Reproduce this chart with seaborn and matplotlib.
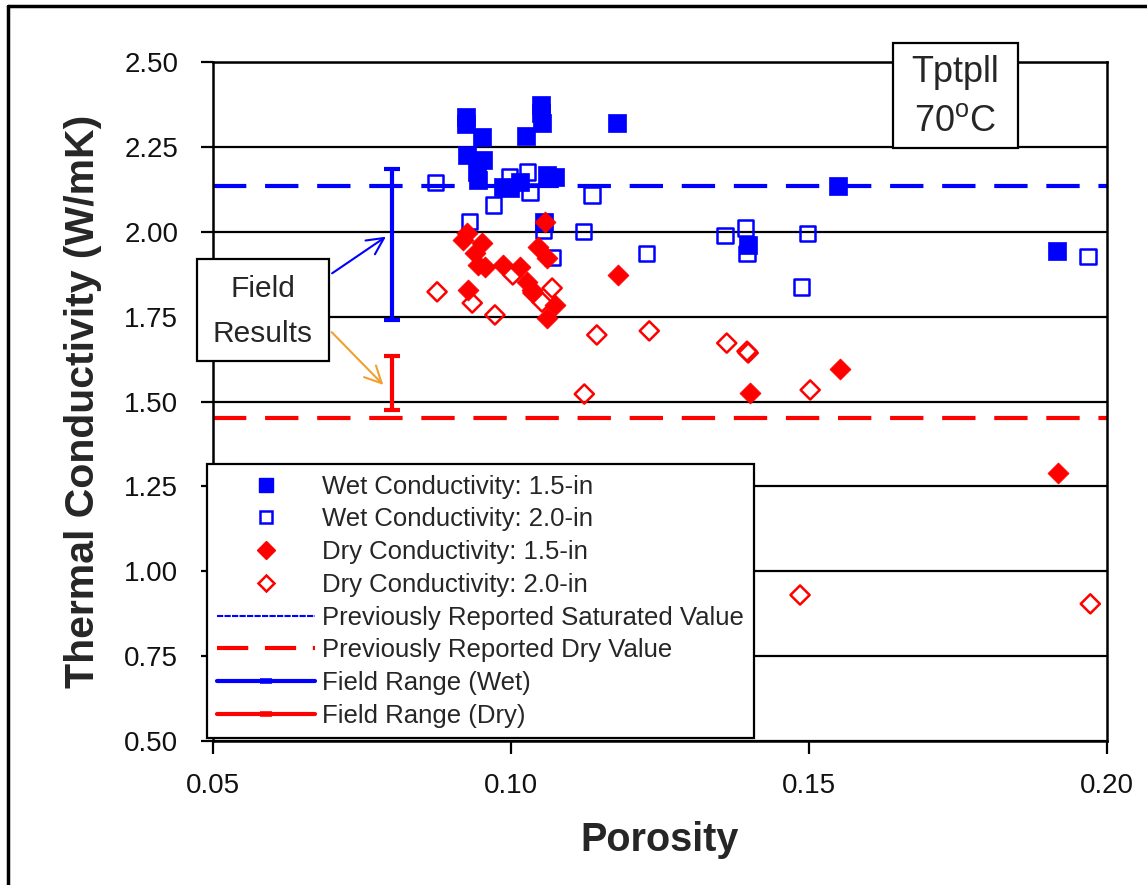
import numpy as np
import pandas as pd
import seaborn as sns
import matplotlib
matplotlib.use("Agg")
import matplotlib.pyplot as plt
from matplotlib.lines import Line2D
from matplotlib.patches import Rectangle

# ---------------- data ----------------
wet15_x = [0.0924, 0.0924, 0.0951, 0.1025, 0.1050, 0.1050, 0.1052, 0.1178,
           0.0926, 0.0953, 0.0943, 0.0945, 0.0987, 0.1015, 0.0998, 0.1060, 0.1074,
           0.1055, 0.1398, 0.1549, 0.1916]
wet15_y = [2.339, 2.317, 2.278, 2.282, 2.373, 2.350, 2.320, 2.320,
           2.226, 2.211, 2.176, 2.152, 2.132, 2.147, 2.130, 2.167, 2.161,
           2.030, 1.961, 2.135, 1.943]

wet20_x = [0.0873, 0.0970, 0.0931, 0.0998, 0.1028, 0.1032, 0.1136, 0.1055,
           0.1121, 0.1069, 0.1228, 0.1359, 0.1393, 0.1396, 0.1498, 0.1488, 0.1968]
wet20_y = [2.144, 2.079, 2.030, 2.161, 2.176, 2.117, 2.108, 2.005,
           2.000, 1.923, 1.935, 1.990, 2.011, 1.937, 1.996, 1.837, 1.926]

dry15_x = [0.0926, 0.0919, 0.0951, 0.0940, 0.0945, 0.0956, 0.0987, 0.1015,
           0.1027, 0.1035, 0.1045, 0.1060, 0.1074, 0.1060, 0.0928, 0.1057,
           0.1180, 0.1401, 0.1552, 0.1918]
dry15_y = [1.996, 1.976, 1.967, 1.937, 1.902, 1.896, 1.902, 1.896,
           1.852, 1.829, 1.955, 1.923, 1.784, 1.746, 1.829, 2.029,
           1.873, 1.525, 1.596, 1.290]

dry20_x = [0.0876, 0.0935, 0.0973, 0.1003, 0.1037, 0.1069, 0.1052, 0.1144,
           0.1123, 0.1232, 0.1362, 0.1396, 0.1398, 0.1502, 0.1485, 0.1972]
dry20_y = [1.823, 1.790, 1.755, 1.873, 1.820, 1.834, 1.793, 1.696,
           1.522, 1.708, 1.672, 1.648, 1.643, 1.534, 0.930, 0.904]

sat_value = 2.135
dry_value = 1.45
field_x = 0.08
field_wet = (1.74, 2.185)
field_dry = (1.475, 1.635)

labels = ["Wet Conductivity: 1.5-in", "Wet Conductivity: 2.0-in",
          "Dry Conductivity: 1.5-in", "Dry Conductivity: 2.0-in",
          "Previously Reported Saturated Value", "Previously Reported Dry Value",
          "Field Range (Wet)", "Field Range (Dry)"]
xticks = [0.05, 0.10, 0.15, 0.20]
yticks = [0.50, 0.75, 1.00, 1.25, 1.50, 1.75, 2.00, 2.25, 2.50]

# ---------------- style ----------------
sns.set_theme(style="white")
plt.rcParams["font.family"] = ["Liberation Sans", "DejaVu Sans"]
plt.rcParams["mathtext.fontset"] = "custom"
plt.rcParams["mathtext.rm"] = "Liberation Sans"

BLUE = "#0000ff"
RED = "#ff0000"
ORANGE = "#f0a030"

fig = plt.figure(figsize=(11.47, 8.85), dpi=100)
ax = fig.add_axes([213/1147, 1-741/885, 894/1147, 679/885])

for y in yticks:
    ax.axhline(y, color="black", lw=1.6, zorder=1)

ax.axhline(sat_value, color=BLUE, lw=3.0, dashes=(8, 4.5), zorder=2)
ax.axhline(dry_value, color=RED, lw=3.0, dashes=(8, 4.5), zorder=2)

sns.scatterplot(x=wet20_x, y=wet20_y, ax=ax, marker="s", s=120,
                facecolors="none", edgecolor=BLUE, linewidth=1.8, zorder=3)
sns.scatterplot(x=wet15_x, y=wet15_y, ax=ax, marker="s", s=175,
                color=BLUE, edgecolor=BLUE, linewidth=0.5, zorder=4)
sns.scatterplot(x=dry20_x, y=dry20_y, ax=ax, marker="D", s=95,
                facecolors="none", edgecolor=RED, linewidth=1.8, zorder=5)
sns.scatterplot(x=dry15_x, y=dry15_y, ax=ax, marker="D", s=115,
                color=RED, edgecolor=RED, linewidth=0.5, zorder=6)

mid_w = (field_wet[0] + field_wet[1]) / 2
ax.errorbar([field_x], [mid_w], yerr=[[mid_w - field_wet[0]], [field_wet[1] - mid_w]],
            fmt="none", ecolor=BLUE, elinewidth=3, capsize=6, capthick=3, zorder=7)
mid_d = (field_dry[0] + field_dry[1]) / 2
ax.errorbar([field_x], [mid_d], yerr=[[mid_d - field_dry[0]], [field_dry[1] - mid_d]],
            fmt="none", ecolor=RED, elinewidth=3, capsize=6, capthick=3, zorder=7)

ax.set_xlim(0.05, 0.20)
ax.set_ylim(0.50, 2.50)
ax.set_xticks(xticks)
ax.set_yticks(yticks)
ax.set_xticklabels([f"{v:.2f}" for v in xticks])
ax.set_yticklabels([f"{v:.2f}" for v in yticks])
ax.tick_params(axis="both", direction="out", length=9, width=1.6, color="black",
               labelsize=20, labelcolor="#111111")
ax.tick_params(axis="y", pad=16, left=True)
ax.tick_params(axis="x", pad=14, bottom=True)
for sp in ax.spines.values():
    sp.set_color("black")
    sp.set_linewidth(1.8)
    sp.set_visible(True)
ax.grid(False)

ax.set_xlabel("Porosity", fontsize=28.5, fontweight="bold", labelpad=16)
ax.set_ylabel("Thermal Conductivity (W/mK)", fontsize=29.5, fontweight="bold", labelpad=16)

# Field Results annotation box
ax.add_patch(Rectangle((-0.0179, 0.5596), 0.1477, 0.1503, transform=ax.transAxes,
                       facecolor="white", edgecolor="black", lw=1.6, clip_on=False, zorder=8))
ax.text(0.0559, 0.665, "Field", transform=ax.transAxes, ha="center", va="center",
        fontsize=21.5, zorder=9)
ax.text(0.0559, 0.599, "Results", transform=ax.transAxes, ha="center", va="center",
        fontsize=21.5, zorder=9)
ax.annotate("", xy=(0.0794, 1.99), xytext=(0.0696, 1.873),
            arrowprops=dict(arrowstyle="->", color=BLUE, lw=1.5, mutation_scale=30), zorder=9)
ax.annotate("", xy=(0.0789, 1.543), xytext=(0.0696, 1.71),
            arrowprops=dict(arrowstyle="->", color=ORANGE, lw=1.5, mutation_scale=30), zorder=9)

# Tptpll box
ax.add_patch(Rectangle((0.7606, 0.8733), 0.1398, 0.1547, transform=ax.transAxes,
                       facecolor="white", edgecolor="black", lw=1.6, clip_on=False, zorder=8))
ax.text(0.830, 0.985, "Tptpll", transform=ax.transAxes, ha="center", va="center",
        fontsize=26, zorder=9)
ax.text(0.830, 0.913, "70$^{\\mathrm{o}}$C", transform=ax.transAxes, ha="center", va="center",
        fontsize=26, zorder=9)

# Legend
handles = [
    Line2D([], [], ls="none", marker="s", ms=10, color=BLUE),
    Line2D([], [], ls="none", marker="s", ms=9, mfc="none", mec=BLUE, mew=1.8),
    Line2D([], [], ls="none", marker="D", ms=9, color=RED),
    Line2D([], [], ls="none", marker="D", ms=8, mfc="none", mec=RED, mew=1.8),
    Line2D([], [], color=BLUE, lw=1.5, dashes=(3, 0.6)),
    Line2D([], [], color=RED, lw=3.0, dashes=(7.5, 4)),
    Line2D([], [], color=BLUE, lw=3.0, marker="_", ms=8, mew=4),
    Line2D([], [], color=RED, lw=3.0, marker="_", ms=8, mew=4),
]
leg = ax.legend(handles, labels, loc="lower left", bbox_to_anchor=(-0.0067, 0.0044),
                borderaxespad=0, fontsize=18.5, frameon=True, fancybox=False,
                framealpha=1, edgecolor="black", handlelength=3.8, handletextpad=0.27,
                labelspacing=0.34, borderpad=0.4)
leg.get_frame().set_linewidth(1.6)
leg.set_zorder(10)

# figure border (top and left)
fig.add_artist(Line2D([8/1147, 8/1147], [0, 1-6/885], transform=fig.transFigure,
                      color="black", lw=2.5))
fig.add_artist(Line2D([8/1147, 1], [1-6/885, 1-6/885], transform=fig.transFigure,
                      color="black", lw=2.5))

fig.savefig("out.png", dpi=100, facecolor="white")
